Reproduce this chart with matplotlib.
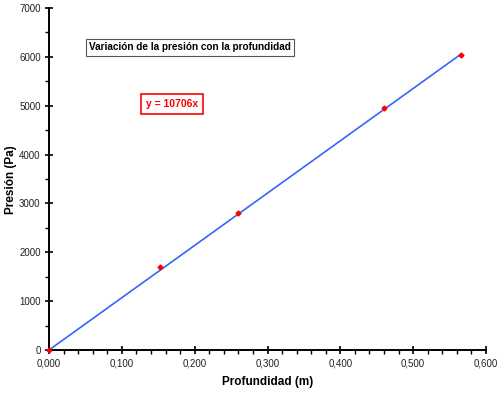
import matplotlib
matplotlib.use("Agg")
import matplotlib.pyplot as plt
import numpy as np
from matplotlib.ticker import MultipleLocator, FuncFormatter

plt.rcParams['font.family'] = ['Liberation Sans', 'DejaVu Sans']

depth = [0.0, 0.152, 0.260, 0.460, 0.566]
pressure = [0, 1705, 2810, 4950, 6045]
slope = 10706
x_ticks = [0.0, 0.1, 0.2, 0.3, 0.4, 0.5, 0.6]
y_ticks = [0, 1000, 2000, 3000, 4000, 5000, 6000, 7000]
title = "Variación de la presión con la profundidad"
eq_label = "y = 10706x"

fig = plt.figure(figsize=(5.0, 3.93), dpi=100)
ax = fig.add_axes([0.098, 0.1094, 0.874, 0.8702])

fit_x = np.array([0.0, max(depth)])
ax.plot(fit_x, slope * fit_x, color='#3366ff', lw=1.2, zorder=2)
ax.plot(depth, pressure, linestyle='none', marker='D', ms=2.5, color='#ff0000',
        mec='#ff0000', zorder=3, clip_on=False)

ax.set_xlim(0, 0.6)
ax.set_ylim(0, 7000)
ax.set_xticks(x_ticks)
ax.set_yticks(y_ticks)
ax.xaxis.set_minor_locator(MultipleLocator(0.02))
ax.yaxis.set_minor_locator(MultipleLocator(500))
ax.xaxis.set_major_formatter(FuncFormatter(lambda v, p: f"{v:.3f}".replace('.', ',')))
ax.yaxis.set_major_formatter(FuncFormatter(lambda v, p: f"{int(round(v))}"))

for s in ['top', 'right']:
    ax.spines[s].set_visible(False)
for s in ['left', 'bottom']:
    ax.spines[s].set_linewidth(1.4)
    ax.spines[s].set_color('black')

ax.tick_params(axis='both', which='major', direction='inout', length=6, width=1.2,
               labelsize=7, colors='black', pad=3)
ax.tick_params(axis='both', which='minor', direction='out', length=3, width=1.0, colors='black')
for lbl in ax.get_xticklabels() + ax.get_yticklabels():
    lbl.set_color('#222222')

fig.text(268 / 500, 1 - 382 / 393, "Profundidad (m)", fontsize=8.5, fontweight='bold',
         ha='center', va='center')
fig.text(11 / 500, 1 - 180 / 393, "Presión (Pa)", fontsize=8.5, fontweight='bold',
         ha='center', va='center', rotation=90)

fig.text(190 / 500, 1 - 47.5 / 393, title, fontsize=7.2, fontweight='bold',
         ha='center', va='center', color='black',
         bbox=dict(boxstyle='square,pad=0.35', fc='white', ec='#555555', lw=0.8))
fig.text(172 / 500, 1 - 104 / 393, eq_label, fontsize=7.5, fontweight='bold',
         ha='center', va='center', color='#ff0000',
         bbox=dict(boxstyle='square,pad=0.45', fc='white', ec='#ff0000', lw=1.2))

fig.savefig("out.png", dpi=100)
